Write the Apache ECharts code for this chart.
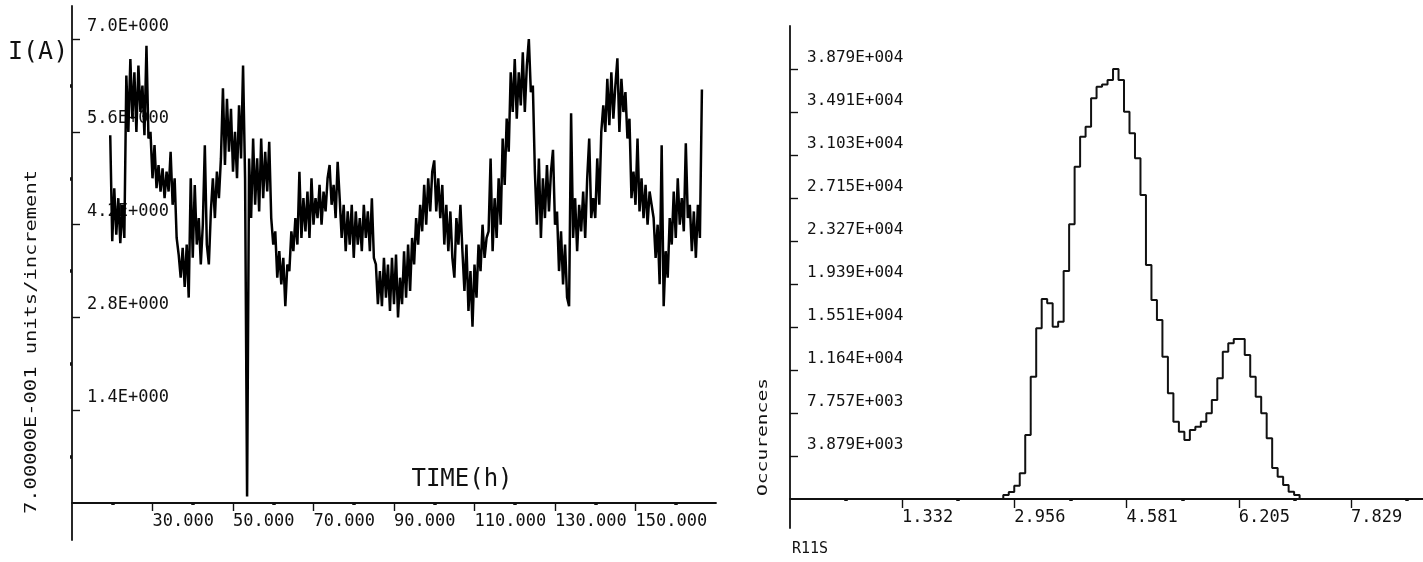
<!DOCTYPE html>
<html><head><meta charset="utf-8">
<script src="https://cdn.jsdelivr.net/npm/echarts@6/dist/echarts.min.js"></script>
<style>html,body{margin:0;padding:0;background:#fff}#c{width:1423px;height:562px}</style>
</head><body><div id="c"></div>
<script>
// ---- left panel: current vs time ----
const timeStart = 19.5, timeStep = 0.5;
const currentValues = [
5.55,3.95,4.75,4.05,4.6,3.92,4.5,4.0,6.45,5.6,
6.7,5.8,6.5,5.6,6.6,5.9,6.3,5.55,6.9,5.5,
5.6,4.9,5.4,4.75,5.1,4.7,5.05,4.6,5.0,4.7,
5.3,4.5,4.9,4.0,3.75,3.4,3.85,3.26,3.9,3.1,
4.9,3.7,4.8,3.9,4.3,3.6,4.2,5.4,3.9,3.6,
4.4,4.9,4.3,5.0,4.6,5.2,6.26,5.1,6.1,5.3,
5.95,5.0,5.6,4.9,6.0,5.2,6.6,4.9,0.1,5.2,
4.3,5.5,4.5,5.2,4.4,5.5,4.6,5.3,4.7,5.45,
4.3,3.9,4.1,3.4,3.8,3.3,3.7,2.97,3.6,3.5,
4.1,3.8,4.3,3.9,5.0,4.0,4.6,4.1,4.7,4.0,
4.9,4.2,4.6,4.3,4.8,4.2,4.7,4.4,4.9,5.1,
4.5,4.8,4.3,5.15,4.6,4.0,4.5,3.8,4.4,3.9,
4.5,3.7,4.4,3.9,4.3,3.8,4.5,4.0,4.4,3.8,
4.6,3.7,3.6,3.0,3.5,2.97,3.7,3.1,3.6,2.9,
3.7,3.0,3.75,2.8,3.4,3.0,3.8,3.1,3.9,3.2,
4.0,3.6,4.3,3.9,4.5,4.1,4.8,4.2,4.9,4.4,
5.0,5.17,4.4,4.9,4.3,4.8,3.9,4.5,3.8,4.4,
3.7,3.4,4.3,3.9,4.5,3.8,3.2,3.9,2.9,3.5,
2.66,3.6,3.1,3.9,3.5,4.2,3.7,4.0,4.1,5.2,
3.8,4.6,4.0,4.9,4.2,5.5,4.8,5.8,5.3,6.5,
5.9,6.7,5.8,6.5,6.0,6.8,5.9,6.6,7.0,6.2,
6.3,5.0,4.2,5.2,4.0,4.9,4.3,5.1,4.4,5.0,
5.33,4.2,4.4,3.5,4.1,3.3,3.9,3.1,2.97,5.88,
4.0,4.6,3.8,4.5,4.1,4.7,4.0,4.9,5.5,4.3,
4.6,4.3,5.2,4.5,5.6,6.0,5.6,6.4,5.7,6.5,
5.8,6.3,6.71,5.6,6.4,5.9,6.2,5.5,5.8,4.6,
5.0,4.5,5.5,4.4,4.9,4.3,4.8,4.2,4.7,4.5,
4.3,3.7,4.2,3.3,5.4,2.97,3.8,3.4,4.3,3.9,
4.7,4.0,4.9,4.2,4.6,4.1,5.43,4.3,4.5,3.8,
4.4,3.7,4.5,4.0,6.24];
const timeTickValues = [30, 50, 70, 90, 110, 130, 150];
const timeTickLabels = ['30.000', '50.000', '70.000', '90.000', '110.000', '130.000', '150.000'];
const timeDotValues = [20, 40, 60, 80, 100, 120, 140, 160];
const currentTickValues = [1.4, 2.8, 4.2, 5.6, 7.0];
const currentTickLabels = ['1.4E+000', '2.8E+000', '4.2E+000', '5.6E+000', '7.0E+000'];
const currentDotValues = [0.7, 2.1, 3.5, 4.9, 6.3];

// ---- right panel: histogram ----
const binStart = 2.7176, binWidth = 0.0794;
const occurrences = [0, 360, 630, 1200, 2318, 5773, 11032, 15397, 18040, 17650, 15545, 15993, 20566, 24780,
  29974, 32680, 33583, 36143, 37190, 37400, 37794, 38786, 37794, 34935, 32985, 30731, 27420, 21107,
  17950, 16146, 12836, 9530, 6975, 6070, 5322, 6224, 6524, 6975, 7727, 8930, 10885, 13290, 14040,
  14432, 14432, 12989, 11032, 9228, 7727, 5475, 2790, 2011, 1263, 661, 360, 0];
const binTickValues = [1.332, 2.956, 4.581, 6.205, 7.829];
const binTickLabels = ['1.332', '2.956', '4.581', '6.205', '7.829'];
const binDotValues = [0.52, 2.144, 3.768, 5.393, 7.017, 8.641];
const occTickValues = [3878.8, 7757.6, 11636.4, 15515.2, 19394, 23272.8, 27151.6, 31030.4, 34909.2, 38788];
const occTickLabels = ['3.879E+003', '7.757E+003', '1.164E+004', '1.551E+004', '1.939E+004',
  '2.327E+004', '2.715E+004', '3.103E+004', '3.491E+004', '3.879E+004'];

const MONO = '"DejaVu Sans Mono", "Liberation Mono", monospace';
const INK = '#111';
function lookup(vals, labels) {
  return function (v) {
    for (let i = 0; i < vals.length; i++) if (Math.abs(vals[i] - v) < 1e-6) return labels[i];
    return '';
  };
}
const g0 = {left: 72, top: 6, width: 644, height: 534};
const g1 = {left: 790, top: 26, width: 633, height: 502};
const y0min = -0.558, y0max = 7.5, y1min = -2616, y1max = 42667;
const off0 = -(0 - y0min) / (y0max - y0min) * g0.height;
const off1 = -(0 - y1min) / (y1max - y1min) * g1.height;

const lineS = {color: INK, width: 1.8};
const option = {
  backgroundColor: '#fff',
  animation: false,
  grid: [g0, g1],
  xAxis: [
    {gridIndex: 0, type: 'value', min: 10, max: 170, position: 'bottom', offset: off0,
      axisLine: {onZero: false, lineStyle: lineS},
      axisTick: {customValues: timeTickValues, length: 8, lineStyle: {color: INK, width: 1.4}},
      axisLabel: {customValues: timeTickValues, formatter: lookup(timeTickValues, timeTickLabels),
        align: 'left', margin: 10, fontFamily: MONO, fontSize: 17, color: INK},
      splitLine: {show: false}},
    {gridIndex: 0, type: 'value', min: 10, max: 170, position: 'bottom', offset: off0,
      axisLine: {show: false, onZero: false},
      axisTick: {customValues: timeDotValues, length: 2, lineStyle: {color: INK, width: 3.5}},
      axisLabel: {show: false}, splitLine: {show: false}},
    {gridIndex: 1, type: 'value', min: -0.289, max: 8.87, position: 'bottom', offset: off1,
      axisLine: {onZero: false, lineStyle: lineS},
      axisTick: {customValues: binTickValues, length: 9, lineStyle: {color: INK, width: 1.4}},
      axisLabel: {customValues: binTickValues, formatter: lookup(binTickValues, binTickLabels),
        align: 'left', margin: 10, fontFamily: MONO, fontSize: 17, color: INK},
      splitLine: {show: false}},
    {gridIndex: 1, type: 'value', min: -0.289, max: 8.87, position: 'bottom', offset: off1,
      axisLine: {show: false, onZero: false},
      axisTick: {customValues: binDotValues, length: 2, lineStyle: {color: INK, width: 3.5}},
      axisLabel: {show: false}, splitLine: {show: false}}
  ],
  yAxis: [
    {gridIndex: 0, type: 'value', min: y0min, max: y0max, position: 'left',
      axisLine: {show: true, onZero: false, lineStyle: lineS},
      axisTick: {show: true, customValues: currentTickValues, inside: true, length: 8, lineStyle: {color: INK, width: 1.4}},
      axisLabel: {customValues: currentTickValues, formatter: lookup(currentTickValues, currentTickLabels),
        inside: true, margin: 15, verticalAlign: 'bottom', lineHeight: 26, fontFamily: MONO, fontSize: 17, color: INK},
      splitLine: {show: false}},
    {gridIndex: 0, type: 'value', min: y0min, max: y0max, position: 'left',
      axisLine: {show: false, onZero: false},
      axisTick: {show: true, customValues: currentDotValues, length: 2, lineStyle: {color: INK, width: 3.5}},
      axisLabel: {show: false}, splitLine: {show: false}},
    {gridIndex: 1, type: 'value', min: y1min, max: y1max, position: 'left',
      axisLine: {show: true, onZero: false, lineStyle: lineS},
      axisTick: {show: true, customValues: occTickValues, inside: true, length: 8, lineStyle: {color: INK, width: 1.4}},
      axisLabel: {customValues: occTickValues, formatter: lookup(occTickValues, occTickLabels),
        inside: true, margin: 17, verticalAlign: 'bottom', lineHeight: 22, fontFamily: MONO, fontSize: 16, color: INK},
      splitLine: {show: false}}
  ],
  series: [
    {type: 'line', xAxisIndex: 0, yAxisIndex: 0, showSymbol: false, silent: true,
      data: currentValues.map((v, i) => [timeStart + i * timeStep, v]),
      lineStyle: {color: '#000', width: 2.5}},
    {type: 'line', xAxisIndex: 2, yAxisIndex: 2, showSymbol: false, silent: true, step: 'middle',
      data: occurrences.map((v, i) => [binStart + (i + 0.5) * binWidth, v]),
      lineStyle: {color: INK, width: 2}}
  ],
  graphic: [
    {type: 'text', left: 8, top: 40, style: {text: 'I(A)', font: '25px ' + MONO, fill: INK}},
    {type: 'text', x: 462, y: 480, style: {text: 'TIME(h)', font: '24px ' + MONO, fill: INK, align: 'center', verticalAlign: 'middle', textAlign: 'center', textVerticalAlign: 'middle'}},
    {type: 'text', x: 32, y: 342, rotation: Math.PI / 2, scaleX: 1.36,
      style: {text: '7.00000E-001 units/increment', font: '15px ' + MONO, fill: INK, align: 'center', verticalAlign: 'middle', textAlign: 'center', textVerticalAlign: 'middle'}},
    {type: 'text', x: 763, y: 437, rotation: Math.PI / 2, scaleX: 1.4,
      style: {text: 'Occurences', font: '14px ' + MONO, fill: INK, align: 'center', verticalAlign: 'middle', textAlign: 'center', textVerticalAlign: 'middle'}},
    {type: 'text', x: 792, y: 549, style: {text: 'R11S', font: '15px ' + MONO, fill: INK, align: 'left', verticalAlign: 'middle', textAlign: 'left', textVerticalAlign: 'middle'}}
  ]
};
const chart = echarts.init(document.getElementById('c'), null, {renderer: 'canvas'});
chart.setOption(option);
</script>
</body></html>
